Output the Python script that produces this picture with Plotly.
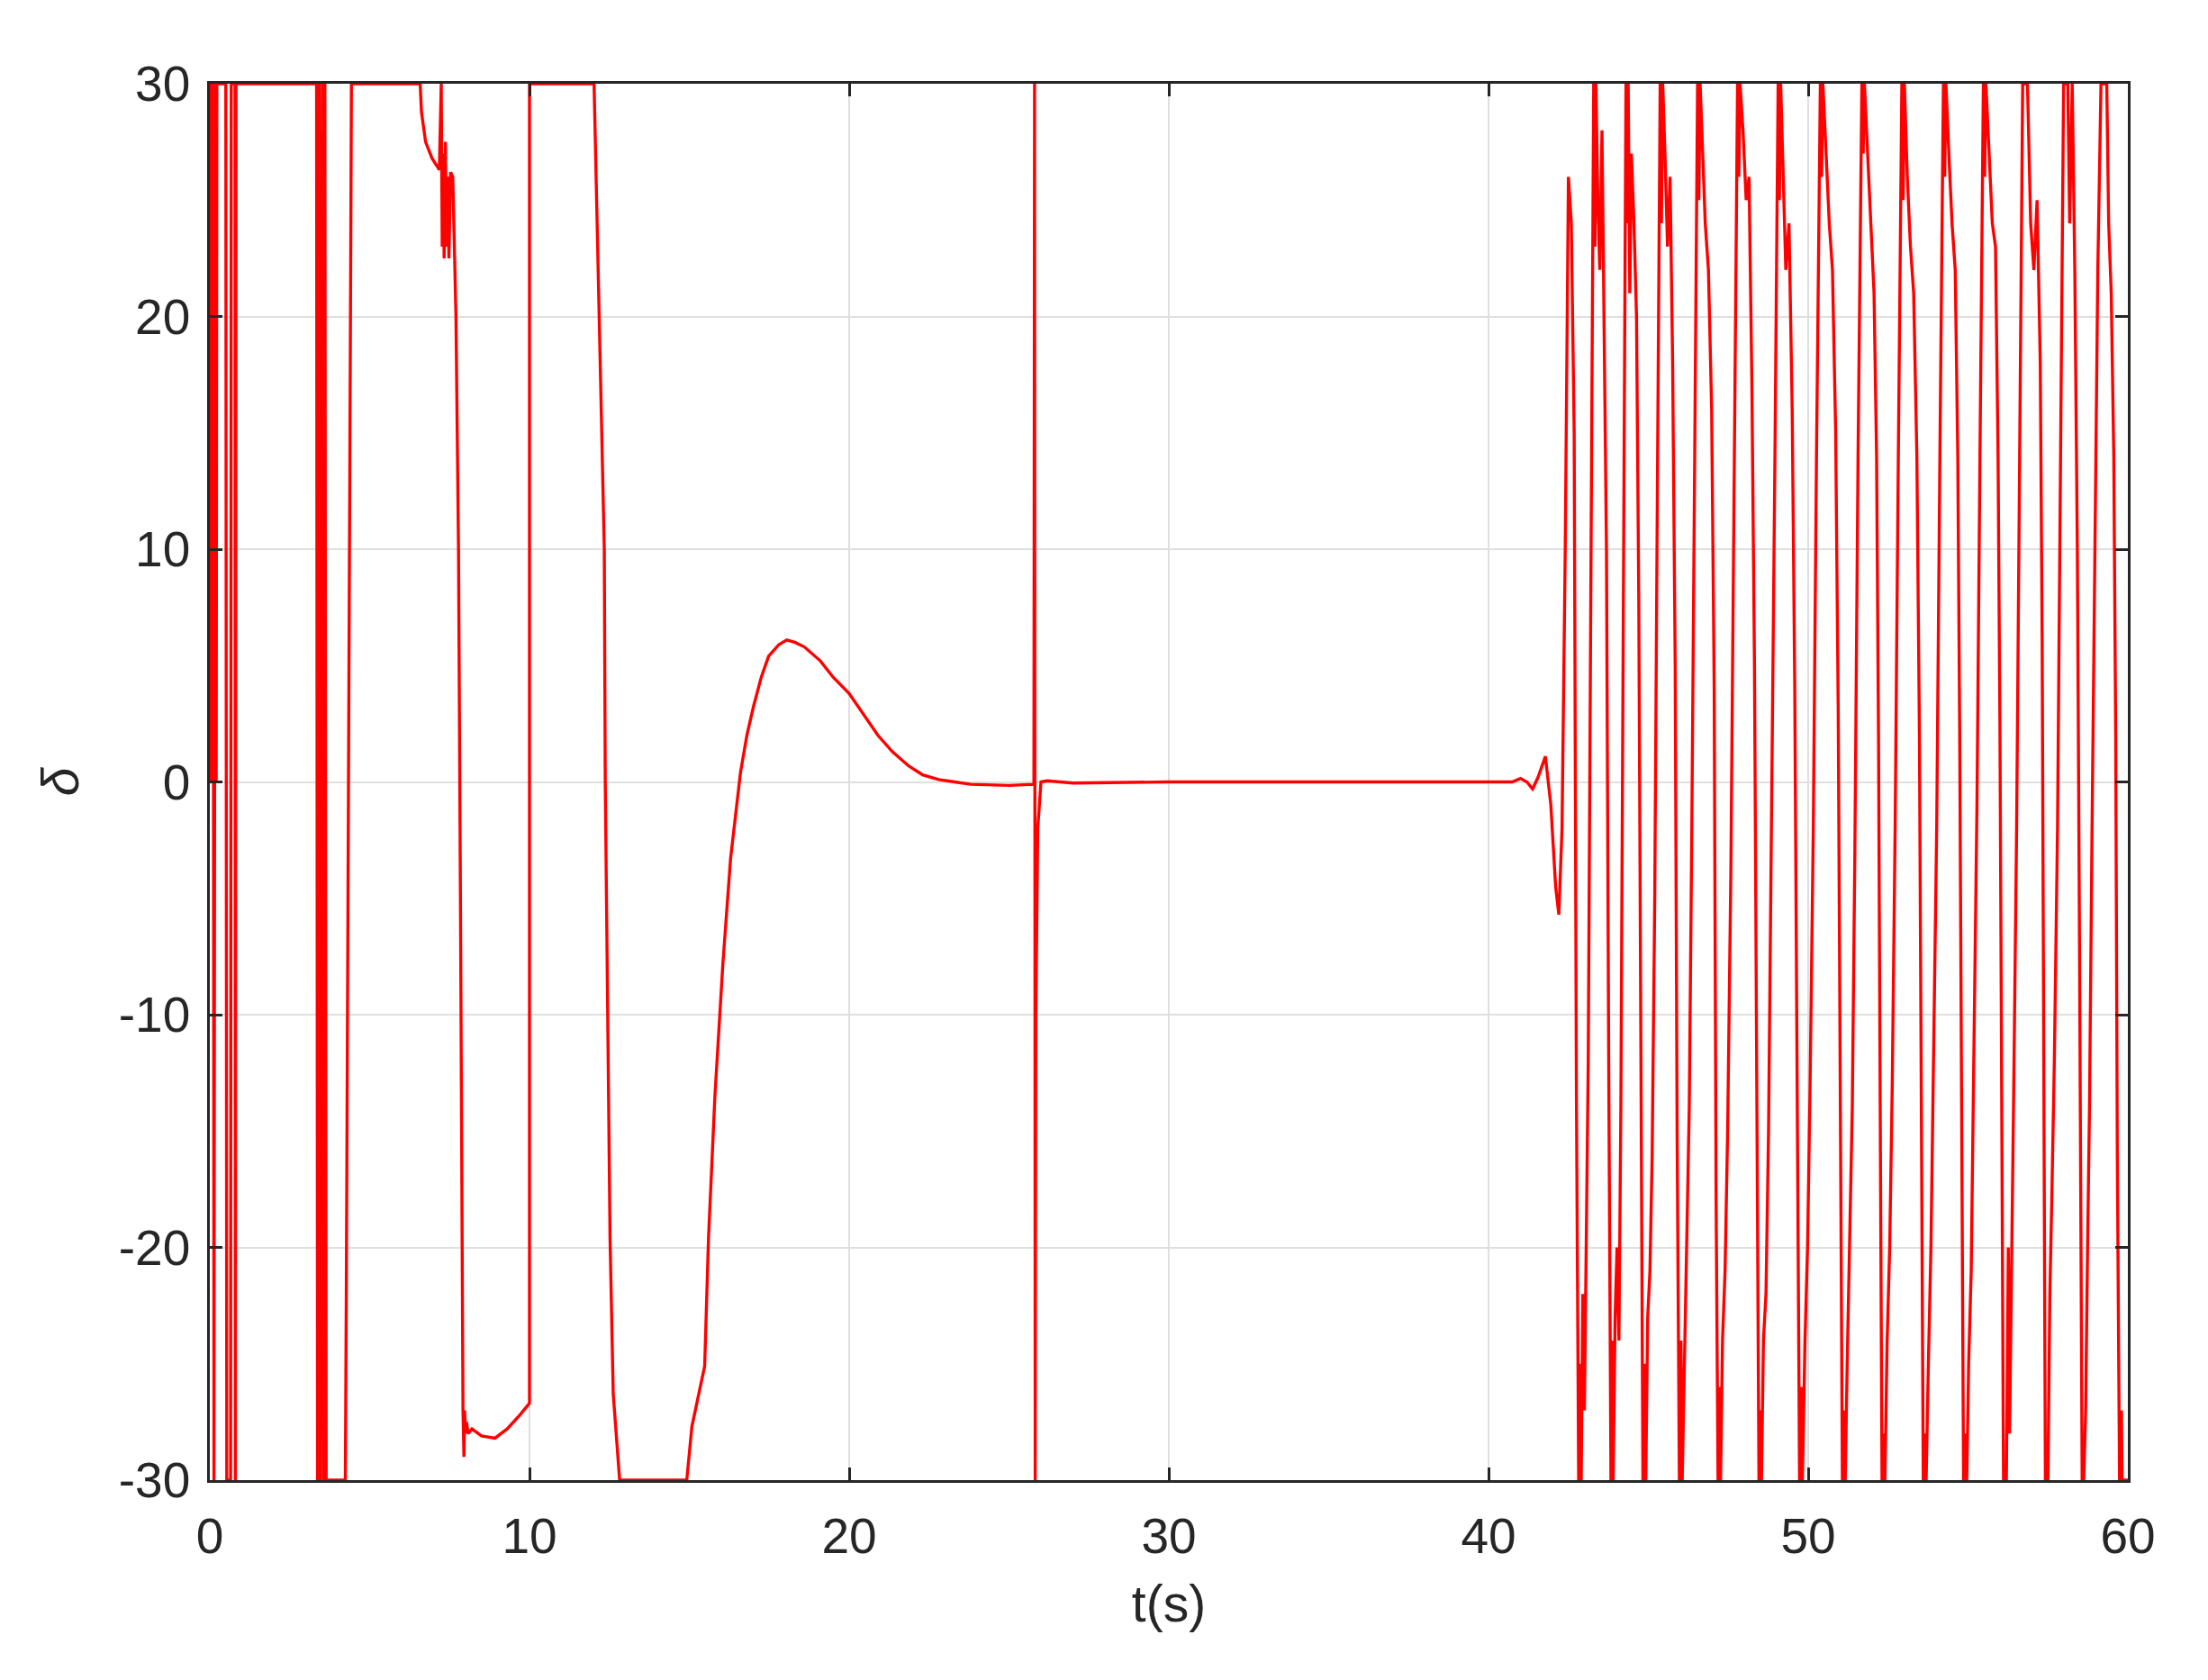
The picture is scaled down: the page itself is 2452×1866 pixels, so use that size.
import plotly.graph_objects as go

# time (s) and steering angle delta (values outside +-30 shown clipped)
t_start = [0, 0.03, 0.07, 0.10, 0.13, 0.17, 0.20, 0.22, 0.50, 0.53, 0.65, 0.67, 0.79, 0.80, 0.82,
           3.34, 3.37, 3.42, 3.46, 3.50, 3.52, 3.56, 3.60, 3.64, 3.68, 4.24, 4.27, 4.35, 4.40, 4.43,
           6.58, 6.62, 6.75, 6.95, 7.18, 7.24, 7.27, 7.30, 7.33, 7.37, 7.40, 7.44, 7.48, 7.53, 7.60,
           7.70, 7.78, 7.84, 7.88, 7.92, 7.95, 7.97, 8.00, 8.03, 8.08, 8.20, 8.50, 8.92, 9.30, 9.70,
           10.0, 10.0, 12.02, 12.18, 12.34, 12.37, 12.44, 12.52, 12.62, 12.82, 14.92]
d_start = [0, 30, 0, 30, -30, 30, 0, 30, 30, -30, -30, 30, 30, -30, 30,
           30, -30, 30, -30, 0, 30, -30, 30, -30, -30, -30, -22, 0, 20, 30,
           30, 28.8, 27.5, 26.8, 26.3, 30, 23, 27, 22.5, 27.5, 23, 26, 22.5, 26.2, 26,
           20, 10, -5, -20, -27, -29, -27, -28, -27.5, -28, -27.8, -28.1, -28.2, -27.8, -27.2,
           -26.7, 30, 30, 20, 10, 0, -10, -19.6, -26.3, -30, -30]

t_mid = [15.08, 15.48, 15.60, 15.80, 16.05, 16.29, 16.60, 16.80, 17.00, 17.25, 17.48, 17.80, 18.05,
         18.30, 18.60, 19.10, 19.50, 20.00, 20.45, 20.90, 21.35, 21.85, 22.30, 22.80, 23.30, 23.80,
         25.00, 25.78, 25.80, 25.82, 25.84, 25.90, 26.00, 26.20, 27.0, 30.0,
         40.0, 40.74, 41.0, 41.2, 41.38, 41.55, 41.78, 41.95, 42.1, 42.2, 42.3, 42.4, 42.5, 42.59,
         42.68, 42.75]
d_mid = [-27.7, -25.1, -19.6, -13.5, -7.8, -3.3, 0.4, 2.0, 3.2, 4.5, 5.4, 5.9, 6.1,
         6.0, 5.8, 5.2, 4.5, 3.8, 2.9, 2.0, 1.3, 0.7, 0.3, 0.1, 0.0, -0.1,
         -0.15, -0.1, 30, -30, -10, -2, 0, 0.05, -0.05, 0,
         0, 0, 0.15, 0, -0.3, 0.2, 1.1, -1, -4.5, -5.7, -2, 10, 26, 24,
         15, -13.5]

t_osc = [42.82, 42.86, 42.90, 42.95, 43.0, 43.05, 43.12, 43.2, 43.29, 43.33, 43.36, 43.42, 43.48, 43.55, 43.62, 43.69, 43.76, 43.83,
         43.87, 43.9, 43.96, 44.02, 44.08, 44.14, 44.22, 44.30, 44.34, 44.37, 44.42, 44.47, 44.55, 44.63, 44.70, 44.77, 44.83,
         44.88, 44.92, 44.98, 45.05, 45.12, 45.2, 45.28, 45.37, 45.41, 45.45, 45.52, 45.6, 45.68, 45.76, 45.84, 45.9, 45.97,
         46.02, 46.06, 46.12, 46.2, 46.28, 46.36, 46.45, 46.54, 46.58, 46.62, 46.7, 46.78, 46.88, 46.98, 47.06, 47.12, 47.18,
         47.22, 47.26, 47.32, 47.4, 47.48, 47.58, 47.68, 47.79, 47.83, 47.87, 47.96, 48.06, 48.15, 48.24, 48.32, 48.4, 48.46,
         48.5, 48.54, 48.6, 48.68, 48.76, 48.86, 48.96, 49.06, 49.1, 49.14, 49.22, 49.3, 49.4, 49.5, 49.58, 49.66, 49.73,
         49.78, 49.82, 49.9, 49.98, 50.06, 50.16, 50.26, 50.38, 50.42, 50.46, 50.56, 50.66, 50.76, 50.86, 50.94, 51.0, 51.07,
         51.12, 51.16, 51.22, 51.3, 51.38, 51.46, 51.56, 51.68, 51.72, 51.76, 51.86, 51.96, 52.06, 52.14, 52.2, 52.26, 52.31,
         52.36, 52.4, 52.47, 52.55, 52.63, 52.72, 52.82, 52.93, 52.97, 53.01, 53.1, 53.2, 53.3, 53.4, 53.48, 53.54, 53.6,
         53.65, 53.69, 53.76, 53.84, 53.92, 54.02, 54.12, 54.23, 54.27, 54.31, 54.4, 54.5, 54.6, 54.68, 54.74, 54.8, 54.86,
         54.92, 54.96, 55.02, 55.1, 55.18, 55.28, 55.38, 55.48, 55.52, 55.56, 55.66, 55.76, 55.86, 55.94, 56.0, 56.06, 56.11,
         56.2, 56.26, 56.3, 56.36, 56.44, 56.52, 56.62, 56.71, 56.76, 56.86, 56.96, 57.06, 57.16, 57.26, 57.32, 57.38, 57.42,
         57.5, 57.56, 57.62, 57.7, 57.8, 57.9, 57.99, 58.04, 58.12, 58.18, 58.26, 58.34, 58.42, 58.48, 58.52, 58.57,
         58.62, 58.68, 58.74, 58.8, 58.88, 58.98, 59.06, 59.16, 59.24, 59.34, 59.4, 59.48, 59.56, 59.62, 59.67, 59.74,
         59.78, 59.80, 59.82, 60.0]
d_osc = [-30, -25, -30, -22, -27, -21, -12, 8, 30, 23, 30, 25, 22, 28, 18, 10, -12, -30,
         -24, -30, -23, -20, -24, -14, 8, 30, 24, 30, 21, 27, 24, 20, 8, -14, -30,
         -25, -30, -23, -21, -16, -5, 12, 30, 24, 30, 27, 23, 26, 18, 5, -15, -30,
         -24, -30, -26, -20, -14, -2, 15, 30, 25, 30, 27, 24, 22, 16, 4, -18, -30,
         -26, -30, -24, -21, -15, -4, 14, 30, 26, 30, 28, 25, 26, 17, 5, -15, -30,
         -27, -30, -24, -22, -15, -2, 14, 30, 25, 30, 26, 22, 24, 16, 4, -16, -30,
         -26, -30, -24, -20, -13, -2, 14, 30, 26, 30, 27, 24, 22, 15, 3, -15, -30,
         -27, -30, -25, -20, -14, -3, 14, 30, 27, 30, 27, 24, 21, 14, 2, -16, -30,
         -28, -30, -24, -20, -13, -2, 14, 30, 25, 30, 26, 23, 21, 14, 2, -16, -30,
         -28, -30, -25, -20, -12, -2, 14, 30, 26, 30, 27, 24, 22, 14, 2, -16, -30,
         -28, -30, -25, -21, -12, -1, 15, 30, 26, 30, 27, 24, 23, 14, 2, -16, -30,
         -30, -20, -28, -22, -12, -2, 15, 30, 30, 30, 24, 22, 25, 18, 6, -14, -30,
         -30, -22, -18, -12, -2, 14, 30, 30, 30, 24, 30, 22, 10, -5, -18, -30,
         -30, -27, -20, -14, -2, 10, 22, 30, 30, 30, 24, 21, 14, 2, -16, -30,
         -30, -27, -30, -30]

t = t_start + t_mid + t_osc
delta = d_start + d_mid + d_osc

y_ticks = [-30, -20, -10, 0, 10, 20, 30]
y_labels = ["-30", "-20", "-10", "0", "10", "20", "30"]

fig = go.Figure()
fig.add_trace(go.Scatter(x=t, y=delta, mode="lines", line=dict(color="#ff0000", width=3.4)))

ax = dict(showline=True, linecolor="#262626", linewidth=2.5, mirror="ticks", ticks="inside",
          ticklen=14, tickwidth=2.5, tickcolor="#262626", showgrid=True, gridcolor="#dfdfdf",
          gridwidth=2, zeroline=False, tickfont=dict(size=55, color="#262626"))
fig.update_xaxes(range=[0, 60], dtick=10, ticklabelstandoff=12,
                 title=dict(text="t(s)", font=dict(size=57, color="#262626"), standoff=26), **ax)
fig.update_yaxes(range=[-30, 30], tickvals=y_ticks, ticktext=y_labels, ticklabelstandoff=8,
                 title=dict(text="<i>δ</i>", font=dict(size=57, color="#262626"), standoff=26), **ax)
fig.update_layout(width=2452, height=1866, plot_bgcolor="white", paper_bgcolor="white",
                  showlegend=False, font=dict(family="Liberation Sans, Arial"),
                  margin=dict(l=225, r=97, t=85, b=230))
fig.write_html("out.html")
